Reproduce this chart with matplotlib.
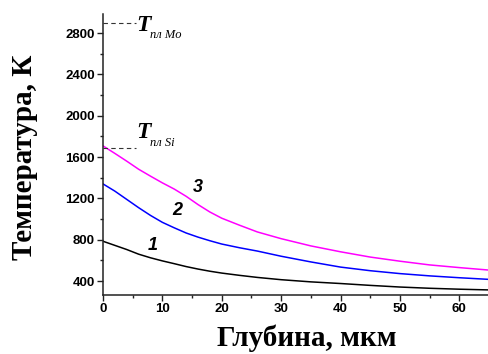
import numpy as np
import matplotlib
matplotlib.use('Agg')
import matplotlib.pyplot as plt
from matplotlib.ticker import MultipleLocator

# глубина, мкм
depth = [0, 2, 4, 6, 8, 10, 12, 14, 16, 18, 20, 23, 26, 30, 35, 40, 45, 50, 55, 60, 65]
# температура, К
temp1 = [785, 745, 705, 660, 625, 595, 568, 540, 516, 495, 477, 455, 435, 413,
         392, 376, 358, 342, 330, 321, 314]
temp2 = [1340, 1270, 1190, 1110, 1035, 968, 915, 865, 825, 790, 758, 722, 690,
         640, 585, 535, 500, 472, 450, 432, 416]
temp3 = [1708, 1635, 1560, 1482, 1415, 1350, 1290, 1220, 1140, 1068, 1008, 940,
         875, 810, 740, 683, 632, 592, 556, 530, 506]

# температуры плавления
t_mo = 2896
t_si = 1687

curve_labels = ['1', '2', '3']
label_pos = [(8.3, 748), (12.5, 1087), (16.0, 1310)]

fig = plt.figure(figsize=(4.89, 3.54), dpi=100, facecolor='w')
ax = fig.add_axes([0.2106, 0.1667, 0.7894, 0.794])

ax.plot(depth, temp1, color='black', lw=1.1)
ax.plot(depth, temp2, color='#0000ff', lw=1.1)
ax.plot(depth, temp3, color='#ff00ff', lw=1.1)

for s, (x, y) in zip(curve_labels, label_pos):
    ax.text(x, y, s, fontsize=13, fontweight='bold', fontstyle='italic',
            family='Liberation Sans', ha='center', va='center')

# линии плавления
ax.plot([0, 5.5], [t_mo, t_mo], color='#333333', lw=0.8, ls=(0, (4, 3)))
ax.plot([0, 5.5], [t_si, t_si], color='#333333', lw=0.8, ls=(0, (4, 3)))
ax.text(5.6, 2820, 'T', fontsize=17, fontweight='bold', fontstyle='italic',
        family='Liberation Serif', va='baseline')
ax.text(7.9, 2752, 'пл Mo', fontsize=9, fontstyle='italic',
        family='Liberation Serif', va='baseline')
ax.text(5.6, 1784, 'T', fontsize=17, fontweight='bold', fontstyle='italic',
        family='Liberation Serif', va='baseline')
ax.text(7.9, 1707, 'пл Si', fontsize=9, fontstyle='italic',
        family='Liberation Serif', va='baseline')

ax.set_xlim(0, 65)
ax.set_ylim(265, 2985)
ax.xaxis.set_major_locator(MultipleLocator(10))
ax.xaxis.set_minor_locator(MultipleLocator(5))
ax.yaxis.set_major_locator(MultipleLocator(400))
ax.yaxis.set_minor_locator(MultipleLocator(200))
ax.set_yticks(np.arange(400, 2801, 400))

for sp in ['top', 'right']:
    ax.spines[sp].set_visible(False)
for sp in ['left', 'bottom']:
    ax.spines[sp].set_linewidth(1.1)
    ax.spines[sp].set_color('#222222')

ax.tick_params(which='major', direction='out', length=4, width=1.0, pad=2,
               labelsize=9.5, color='#222222')
ax.tick_params(which='minor', direction='out', length=2.5, width=1.0,
               color='#222222')
for lab in ax.get_xticklabels() + ax.get_yticklabels():
    lab.set_fontweight('bold')
    lab.set_family('Liberation Sans')

ax.set_xlabel('Глубина, мкм', fontsize=21, fontweight='bold',
              family='Liberation Serif')
ax.set_ylabel('Температура, К', fontsize=21, fontweight='bold',
              family='Liberation Serif')
ax.xaxis.set_label_coords(0.528, -0.105)
ax.yaxis.set_label_coords(-0.168, 0.49)

fig.savefig('out.png', dpi=100, facecolor='w')
